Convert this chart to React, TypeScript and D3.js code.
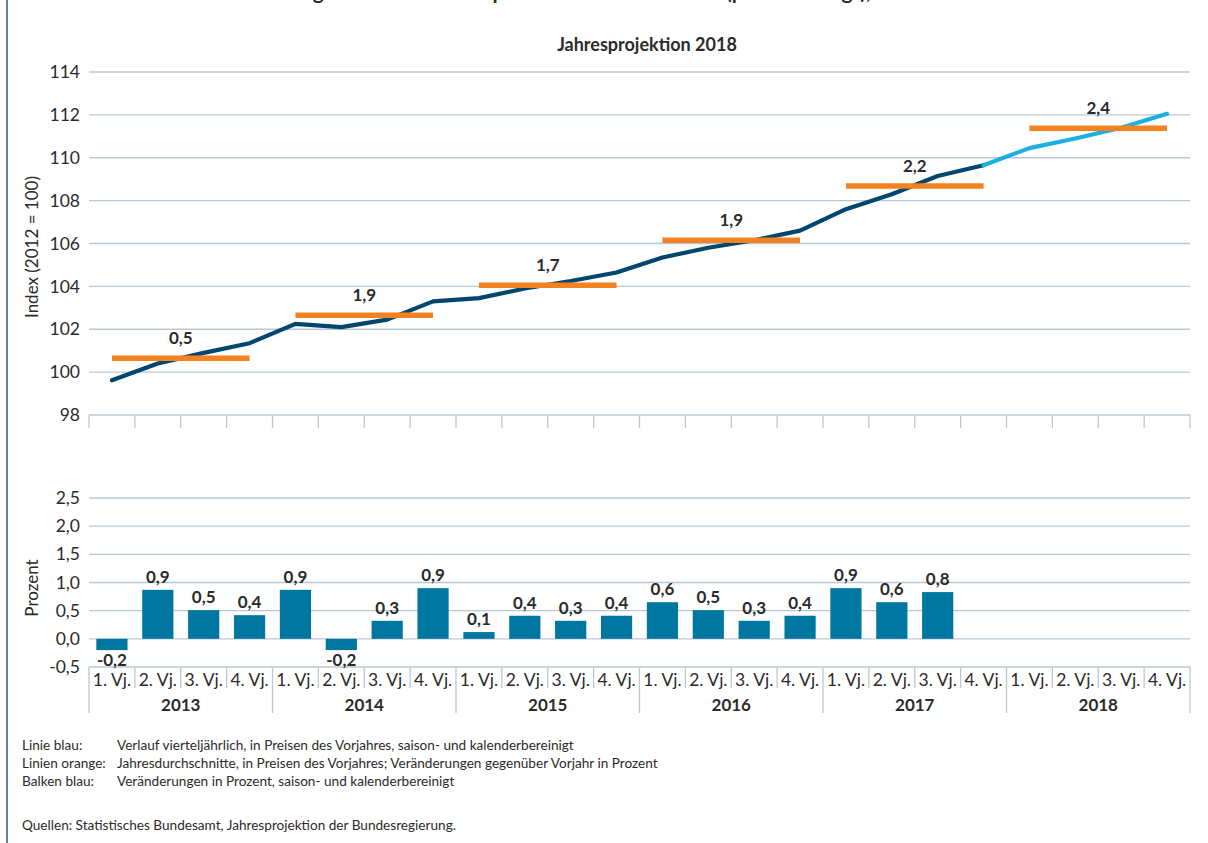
import React from "react";
import * as d3 from "d3";

const years = ["2013", "2014", "2015", "2016", "2017", "2018"];
const quarterNames = ["1. Vj.", "2. Vj.", "3. Vj.", "4. Vj."];
const indexValues = [
  99.62, 100.4, 100.9, 101.35,
  102.25, 102.1, 102.45, 103.3,
  103.45, 103.9, 104.25, 104.65,
  105.35, 105.8, 106.15, 106.6,
  107.6, 108.3, 109.15, 109.65,
  110.45, 110.9, 111.4, 112.05,
];
const actualCount = 20; // dark line up to 4. Vj. 2017, projection afterwards
const annualAverages = [100.65, 102.65, 104.05, 106.15, 108.68, 111.38];
const annualLabels = ["0,5", "1,9", "1,7", "1,9", "2,2", "2,4"];
const quarterlyGrowth = [
  -0.2, 0.87, 0.51, 0.42,
  0.87, -0.2, 0.32, 0.9,
  0.12, 0.41, 0.32, 0.41,
  0.65, 0.51, 0.32, 0.41,
  0.9, 0.65, 0.83,
];
const quarterlyLabels = [
  "-0,2", "0,9", "0,5", "0,4",
  "0,9", "-0,2", "0,3", "0,9",
  "0,1", "0,4", "0,3", "0,4",
  "0,6", "0,5", "0,3", "0,4",
  "0,9", "0,6", "0,8",
];
const topTicks = [98, 100, 102, 104, 106, 108, 110, 112, 114];
const bottomTicks = [-0.5, 0, 0.5, 1.0, 1.5, 2.0, 2.5];
const notes = [
  ["Linie blau:", "Verlauf vierteljährlich, in Preisen des Vorjahres, saison- und kalenderbereinigt"],
  ["Linien orange:", "Jahresdurchschnitte, in Preisen des Vorjahres; Veränderungen gegenüber Vorjahr in Prozent"],
  ["Balken blau:", "Veränderungen in Prozent, saison- und kalenderbereinigt"],
];
const source = "Quellen: Statistisches Bundesamt, Jahresprojektion der Bundesregierung.";

const FONT = "Lato, 'Noto Sans', sans-serif";
const GRID = "#bac8d3";
const TEXT = "#2b2b2b";
const DARK = "#00466f";
const LIGHT = "#1ab1e0";
const ORANGE = "#f58220";
const BAR = "#0077a1";

export default function App() {
  const W = 1208, H = 843;
  const left = 89, right = 1190;
  const idx = d3.range(24);
  const x = d3
    .scaleBand<number>()
    .domain(idx)
    .range([left, right])
    .paddingInner(0.32)
    .paddingOuter(0.16);
  const bw = (right - left) / 24;
  const cx = (i: number) => (x(i) as number) + x.bandwidth() / 2;

  const yTop = d3.scaleLinear().domain([98, 114]).range([415, 72]);
  const yBot = d3.scaleLinear().domain([-0.5, 2.5]).range([667, 498]);

  const line = d3.line<number>().x((_, i) => cx(i)).y((d) => yTop(d));
  const darkPath = line(indexValues.slice(0, actualCount)) || "";
  const lightLine = d3
    .line<number>()
    .x((_, i) => cx(i + actualCount - 1))
    .y((d) => yTop(d));
  const lightPath = lightLine(indexValues.slice(actualCount - 1)) || "";

  const fmt = (v: number) => d3.format(".1f")(v).replace(".", ",").replace("−", "-");

  return (
    <svg
      width={W}
      height={H}
      style={{ position: "absolute", left: 0, top: 0, background: "#fff" }}
      fontFamily={FONT}
    >
      <rect x={0} y={0} width={W} height={H} fill="#fff" />
      <line x1={7} x2={7} y1={0} y2={H} stroke="#2a5b8a" strokeWidth={1.5} />

      {/* main title, cut off at the top edge as in the reference */}
      <text x={540} y={-1} textAnchor="middle" fontSize={21} fontWeight={700} fill={TEXT}>
        Entwicklung des Bruttoinlandsprodukts in Deutschland (preisbereinigt),
      </text>

      <text x={647} y={51} textAnchor="middle" fontSize={18} fontWeight={700} fill={TEXT}>
        Jahresprojektion 2018
      </text>

      {/* top chart grid */}
      {topTicks.map((t) => (
        <g key={"tt" + t}>
          <line x1={left} x2={right} y1={yTop(t)} y2={yTop(t)} stroke={GRID} strokeWidth={1.3} />
          <text x={80} y={yTop(t)} dy="0.35em" textAnchor="end" fontSize={17.5} fill={TEXT}>
            {t}
          </text>
        </g>
      ))}
      {d3.range(25).map((i) => (
        <line
          key={"tk" + i}
          x1={left + i * bw}
          x2={left + i * bw}
          y1={yTop(98)}
          y2={yTop(98) + 13}
          stroke={GRID}
          strokeWidth={1.3}
        />
      ))}
      <text
        transform={`translate(38,${247}) rotate(-90)`}
        textAnchor="middle"
        fontSize={17}
        fill={TEXT}
      >
        Index (2012 = 100)
      </text>

      {/* index lines */}
      <path d={darkPath} fill="none" stroke={DARK} strokeWidth={4.2} strokeLinejoin="round" strokeLinecap="round" />
      <path d={lightPath} fill="none" stroke={LIGHT} strokeWidth={4.2} strokeLinejoin="round" strokeLinecap="round" />

      {/* annual averages */}
      {annualAverages.map((v, k) => {
        const x1 = cx(k * 4);
        const x2 = cx(k * 4 + 3);
        return (
          <g key={"av" + k}>
            <line x1={x1} x2={x2} y1={yTop(v)} y2={yTop(v)} stroke={ORANGE} strokeWidth={5.5} />
            <text
              x={(x1 + x2) / 2}
              y={yTop(v) - 14}
              textAnchor="middle"
              fontSize={17}
              fontWeight={700}
              fill={TEXT}
            >
              {annualLabels[k]}
            </text>
          </g>
        );
      })}

      {/* bottom chart grid */}
      {bottomTicks.map((t) => (
        <g key={"bt" + t}>
          <line x1={left} x2={right} y1={yBot(t)} y2={yBot(t)} stroke={GRID} strokeWidth={1.3} />
          <text x={80} y={yBot(t)} dy="0.35em" textAnchor="end" fontSize={17.5} fill={TEXT}>
            {fmt(t)}
          </text>
        </g>
      ))}
      <text
        transform={`translate(38,${588}) rotate(-90)`}
        textAnchor="middle"
        fontSize={17}
        fill={TEXT}
      >
        Prozent
      </text>

      {/* bars */}
      {quarterlyGrowth.map((v, i) => {
        const y0 = yBot(0);
        const yv = yBot(v);
        return (
          <g key={"b" + i}>
            <rect
              x={x(i)}
              y={Math.min(y0, yv)}
              width={x.bandwidth()}
              height={Math.abs(yv - y0)}
              fill={BAR}
            />
            <text
              x={cx(i)}
              y={v >= 0 ? yv - 7 : yv + 16}
              textAnchor="middle"
              fontSize={17}
              fontWeight={700}
              fill={TEXT}
            >
              {quarterlyLabels[i]}
            </text>
          </g>
        );
      })}

      {/* category axis */}
      {d3.range(25).map((i) => (
        <line
          key={"qs" + i}
          x1={left + i * bw}
          x2={left + i * bw}
          y1={yBot(-0.5)}
          y2={i % 4 === 0 ? 713 : 688}
          stroke={GRID}
          strokeWidth={1.3}
        />
      ))}
      {idx.map((i) => (
        <text
          key={"ql" + i}
          x={left + (i + 0.5) * bw}
          y={686}
          textAnchor="middle"
          fontSize={17.5}
          fill={TEXT}
        >
          {quarterNames[i % 4]}
        </text>
      ))}
      {years.map((yr, k) => (
        <text
          key={"yr" + yr}
          x={left + (k * 4 + 2) * bw}
          y={711}
          textAnchor="middle"
          fontSize={17}
          fontWeight={700}
          fill={TEXT}
        >
          {yr}
        </text>
      ))}

      {/* notes */}
      {notes.map(([a, b], k) => (
        <g key={"n" + k}>
          <text x={22} y={750 + k * 18} fontSize={13.6} fill={TEXT}>
            {a}
          </text>
          <text x={117} y={750 + k * 18} fontSize={13.6} fill={TEXT}>
            {b}
          </text>
        </g>
      ))}
      <text x={22} y={830} fontSize={13.6} fill={TEXT}>
        {source}
      </text>
    </svg>
  );
}
